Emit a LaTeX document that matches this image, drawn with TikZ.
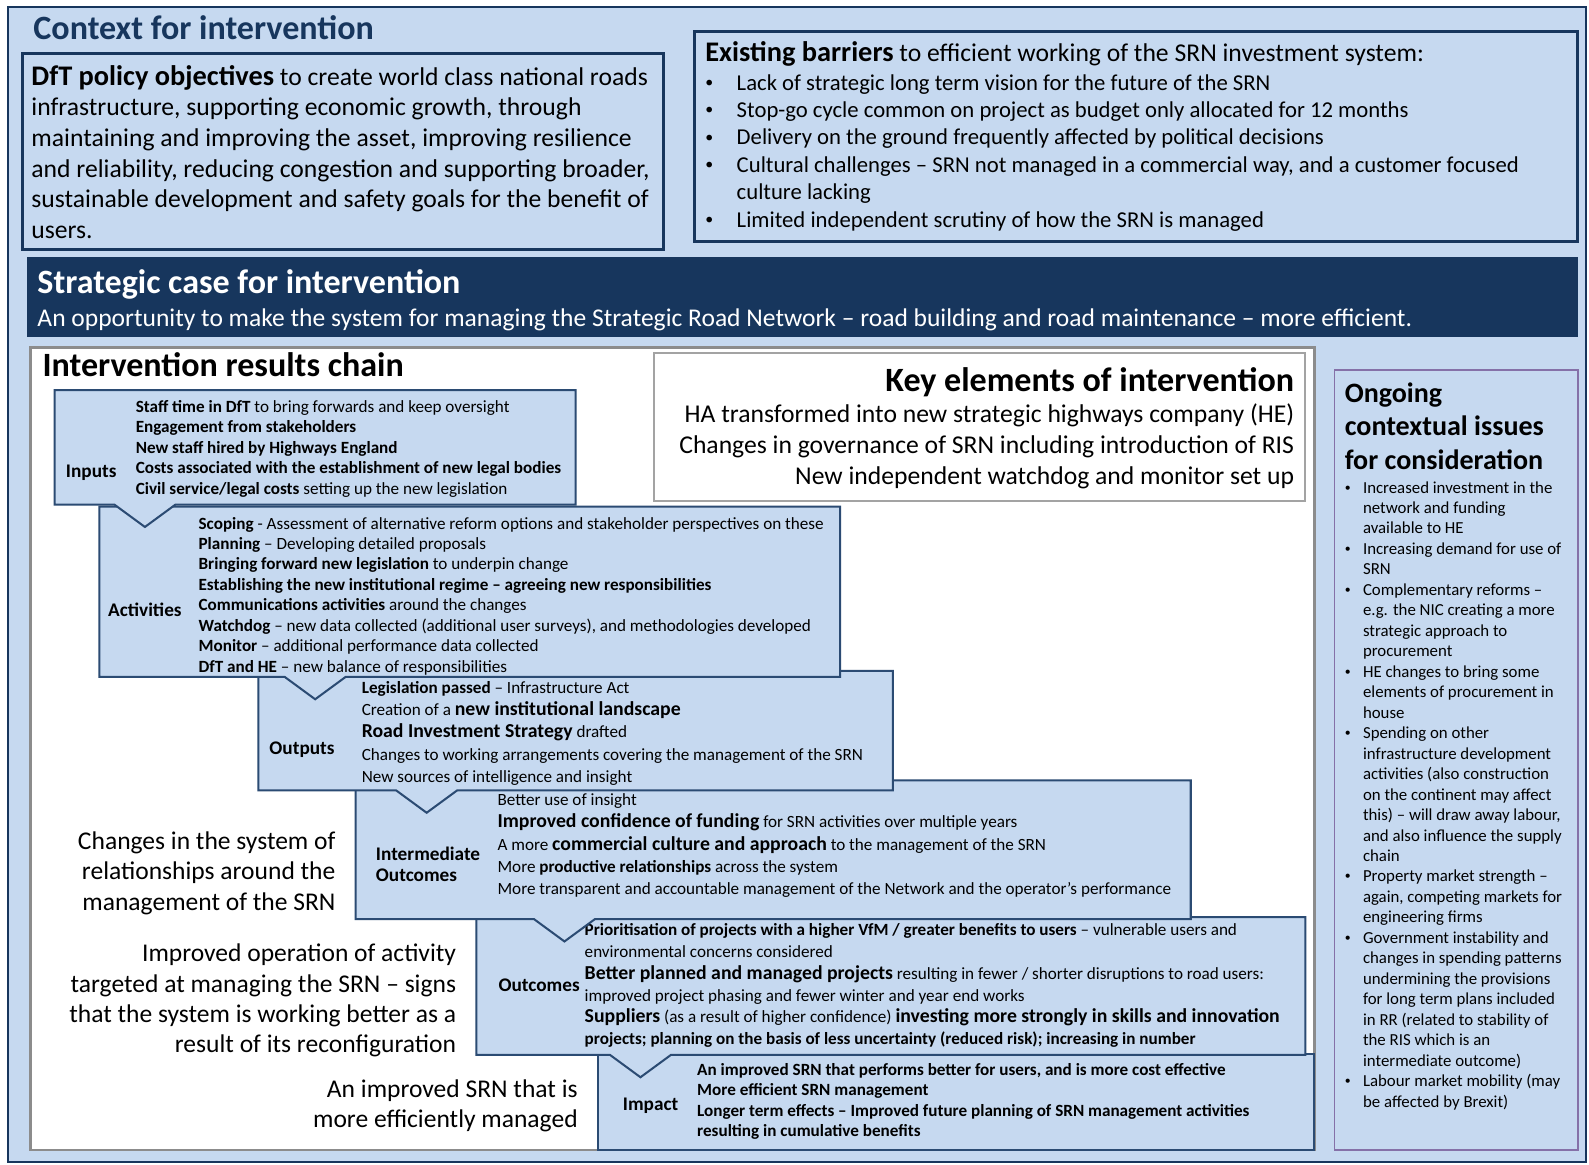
\documentclass[tikz,border=0pt]{standalone}
\usepackage{fontspec}
\setmainfont{Carlito}
\definecolor{paleblue}{HTML}{C6D9F0}
\definecolor{navy}{HTML}{17365D}
\definecolor{chainline}{HTML}{2B4B73}
\definecolor{greyline}{HTML}{8C8C8C}
\definecolor{lilac}{HTML}{8571A8}

% text blocks: first baseline sits on the node's base anchor
\newcommand{\tblock}[4]{\parbox[t]{#1}{\fontsize{#2}{#3}\selectfont\hyphenpenalty=10000 #4}}
\newcommand{\rblock}[4]{\parbox[t]{#1}{\fontsize{#2}{#3}\selectfont\raggedleft #4}}
% small bullet dot
\newcommand{\smalldot}{\raisebox{0.12em}{\scalebox{0.7}{\textbullet}}}
% bulleted item with hanging indent: indent, bullet shift, text
\newcommand{\bitem}[3]{\par\hangindent=#1\hangafter=1\noindent\makebox[#1][l]{\hspace{#2}\smalldot}#3}
% larger bold phrase inside the chain boxes
\newcommand{\chainbig}[1]{{\fontsize{19.5}{22}\selectfont\bfseries #1}}
% chain panel with a downward V pointer: x1,y1,x2,y2,tip x
\newcommand{\chainpanel}[5]{\draw[chainbox] (#1,#2) -- (#3,#2) -- (#3,#4) -- ({#5+30},#4) -- (#5,{#4+22}) -- ({#5-30},#4) -- (#1,#4) -- cycle;}

\begin{document}
\begin{tikzpicture}[x=1pt,y=-1pt,
  txt/.style={anchor=base west, inner sep=0pt, outer sep=0pt},
  rtxt/.style={anchor=base east, inner sep=0pt, outer sep=0pt},
  lbl/.style={anchor=base, inner sep=0pt, font=\fontsize{19}{22}\selectfont\bfseries},
  chainbox/.style={fill=paleblue, draw=chainline, line width=2pt, line join=miter},
  heading/.style={font=\fontsize{33.6}{40}\selectfont\bfseries}]
\useasboundingbox (0,0) rectangle (1568,1149);
\fill[white] (0,0) rectangle (1568,1149);
\draw[navy, line width=2pt, fill=paleblue] (8,7) rectangle (1565,1147);

% context row
\node[txt, heading, text=navy] (ctxtitle) at (33,39) {Context for intervention};
\draw[navy, line width=3pt, fill=paleblue] (22,53) rectangle (655,246);
\node[txt] (dft) at (31,84) {\tblock{900pt}{25.3}{30.3}{{\fontsize{28}{30}\selectfont\bfseries DfT policy objectives} to create world class national roads\newline
infrastructure, supporting economic growth, through\newline
maintaining and improving the asset, improving resilience\newline
and reliability, reducing congestion and supporting broader,\newline
sustainable development and safety goals for the benefit of\newline
users.}};

\draw[navy, line width=3pt, fill=paleblue] (685,31) rectangle (1557,238);
\node[txt] (barT) at (696,61) {\fontsize{25.3}{27}\selectfont{\fontsize{28}{30}\selectfont\bfseries Existing barriers} to efficient working of the SRN investment system:};
\node[txt] (barL) at (696,89) {\tblock{900pt}{22.4}{27}{%
\bitem{31pt}{0pt}{Lack of strategic long term vision for the future of the SRN}%
\bitem{31pt}{0pt}{Stop-go cycle common on project as budget only allocated for 12 months}%
\bitem{31pt}{0pt}{Delivery on the ground frequently affected by political decisions}%
\bitem{31pt}{0pt}{Cultural challenges – SRN not managed in a commercial way, and a customer focused\newline culture lacking}%
\bitem{31pt}{0pt}{Limited independent scrutiny of how the SRN is managed}}};

% strategic case band
\fill[navy] (27,254) rectangle (1557,333);
\node[txt, heading, text=white] (sctitle) at (37,290) {Strategic case for intervention};
\node[txt, text=white, font=\fontsize{25.2}{28}\selectfont] (scsub) at (37,322) {An opportunity to make the system for managing the Strategic Road Network – road building and road maintenance – more efficient.};

% results chain area
\draw[greyline, line width=2.5pt, fill=white] (30,343) rectangle (1297,1135);
\node[txt, heading] (rctitle) at (42,372) {Intervention results chain};

\draw[greyline!80, line width=2pt, fill=white] (645,348) rectangle (1288,494);
\node[rtxt, heading] (keyT) at (1277,386) {Key elements of intervention};
\node[rtxt] (keyL) at (1277,417) {\rblock{700pt}{25.3}{30.5}{HA transformed into new strategic highways company (HE)\\
Changes in governance of SRN including introduction of RIS\\
New independent watchdog and monitor set up}};

% ongoing issues column
\draw[lilac, line width=1.5pt, fill=paleblue] (1317,365) rectangle (1557,1135);
\node[txt] (ongT) at (1327,397) {\tblock{300pt}{27.7}{33}{\bfseries Ongoing\newline contextual issues\newline for consideration}};
\node[txt] (ongL) at (1327,486.5) {\tblock{300pt}{16.6}{20.2}{%
\bitem{18pt}{0pt}{Increased investment in the\newline network and funding\newline available to HE}%
\bitem{18pt}{0pt}{Increasing demand for use of\newline SRN}%
\bitem{18pt}{0pt}{Complementary reforms –\newline e.g. the NIC creating a more\newline strategic approach to\newline procurement}%
\bitem{18pt}{0pt}{HE changes to bring some\newline elements of procurement in\newline house}%
\bitem{18pt}{0pt}{Spending on other\newline infrastructure development\newline activities (also construction\newline on the continent may affect\newline this) – will draw away labour,\newline and also influence the supply\newline chain}%
\bitem{18pt}{0pt}{Property market strength –\newline again, competing markets for\newline engineering firms}%
\bitem{18pt}{0pt}{Government instability and\newline changes in spending patterns\newline undermining the provisions\newline for long term plans included\newline in RR (related to stability of\newline the RIS which is an\newline intermediate outcome)}%
\bitem{18pt}{0pt}{Labour market mobility (may\newline be affected by Brexit)}}};

% chain panels, drawn from the last stage upwards so each pointer overlaps the next stage
\draw[chainbox] (590,1040) rectangle (1297,1135);
\node[lbl] (impL) at (642,1096) {Impact};
\node[txt] (impT) at (688,1061) {\tblock{700pt}{16.9}{20.2}{\bfseries An improved SRN that performs better for users, and is more cost effective\newline
More efficient SRN management\newline
Longer term effects – Improved future planning of SRN management activities\newline
resulting in cumulative benefits}};

\chainpanel{470}{905}{1288}{1041}{632}
\node[lbl] (outcL) at (532,978) {Outcomes};
\node[txt] (outcT) at (577,923) {\tblock{900pt}{16.9}{21.6}{\textbf{Prioritisation of projects with a higher VfM / greater benefits to users} – vulnerable users and\newline
environmental concerns considered\newline
\chainbig{Better planned and managed projects} resulting in fewer / shorter disruptions to road users:\newline
improved project phasing and fewer winter and year end works\newline
\chainbig{Suppliers} (as a result of higher confidence) \chainbig{investing more strongly in skills and innovation}\newline
\textbf{projects; planning on the basis of less uncertainty (reduced risk); increasing in number}}};

\chainpanel{351}{770}{1175}{907}{557}
\node[txt] (intL) at (371,849) {\tblock{200pt}{19}{21}{\bfseries Intermediate\newline Outcomes}};
\node[txt] (intT) at (491,795) {\tblock{900pt}{16.9}{22}{Better use of insight\newline
\chainbig{Improved confidence of funding} for SRN activities over multiple years\newline
A more \chainbig{commercial culture and approach} to the management of the SRN\newline
More \textbf{productive relationships} across the system\newline
More transparent and accountable management of the Network and the operator’s performance}};

\chainpanel{255}{662}{881}{780}{421}
\node[lbl] (outL) at (298,745) {Outputs};
\node[txt] (outT) at (357,684) {\tblock{900pt}{16.9}{22}{\textbf{Legislation passed} – Infrastructure Act\newline
Creation of a \chainbig{new institutional landscape}\newline
\chainbig{Road Investment Strategy} drafted\newline
Changes to working arrangements covering the management of the SRN\newline
New sources of intelligence and insight}};

\chainpanel{98}{500}{829}{668}{311}
\node[lbl] (actL) at (143,608) {Activities};
\node[txt] (actT) at (196,522) {\tblock{900pt}{16.9}{20.2}{\textbf{Scoping} - Assessment of alternative reform options and stakeholder perspectives on these\newline
\textbf{Planning} – Developing detailed proposals\newline
\textbf{Bringing forward new legislation} to underpin change\newline
\textbf{Establishing the new institutional regime – agreeing new responsibilities}\newline
\textbf{Communications activities} around the changes\newline
\textbf{Watchdog} – new data collected (additional user surveys), and methodologies developed\newline
\textbf{Monitor} – additional performance data collected\newline
\textbf{DfT and HE} – new balance of responsibilities}};

\chainpanel{54}{385}{568}{498}{143}
\node[lbl] (inL) at (90,471) {Inputs};
\node[txt] (inT) at (134,407) {\tblock{900pt}{16.9}{20.2}{\textbf{Staff time in DfT} to bring forwards and keep oversight\newline
\textbf{Engagement from stakeholders}\newline
\textbf{New staff hired by Highways England}\newline
\textbf{Costs associated with the establishment of new legal bodies}\newline
\textbf{Civil service/legal costs} setting up the new legislation}};

% left-hand notes beside the chain
\node[rtxt] (noteA) at (331,838) {\rblock{400pt}{25.2}{30}{Changes in the system of\\relationships around the\\management of the SRN}};
\node[rtxt] (noteB) at (450,949) {\rblock{500pt}{25.2}{30}{Improved operation of activity\\targeted at managing the SRN – signs\\that the system is working better as a\\result of its reconfiguration}};
\node[rtxt] (noteC) at (570,1083) {\rblock{400pt}{25.2}{30}{An improved SRN that is\\more efficiently managed}};
\end{tikzpicture}
\end{document}
